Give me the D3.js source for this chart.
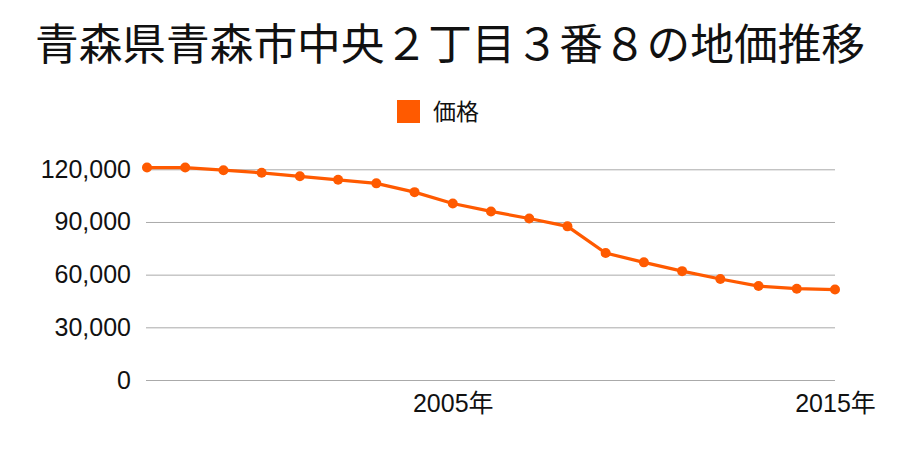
<!DOCTYPE html>
<html><head><meta charset="utf-8">
<script src="https://cdn.jsdelivr.net/npm/d3@7"></script>
<style>body{margin:0;background:#fff;} text{font-family:"Liberation Sans","Noto Sans CJK JP",sans-serif;}</style>
</head><body><svg id="c" width="900" height="450"></svg>
<script>
const years = [1997,1998,1999,2000,2001,2002,2003,2004,2005,2006,2007,2008,2009,2010,2011,2012,2013,2014,2015];
const prices = [121000,121000,119500,118000,116000,114000,112000,107000,100500,96000,92000,87500,72300,67000,62000,57500,53500,52000,51500];
const yTicks = [0,30000,60000,90000,120000];
const xTickYears = [2005,2015];
const title = "青森県青森市中央２丁目３番８の地価推移";
const legendLabel = "価格";

const svg = d3.select("#c");
const color = "#ff5a00";
const x = d3.scaleLinear().domain([1997,2015]).range([147,835]);
const y = d3.scaleLinear().domain([0,120000]).range([380,169.3]);

svg.append("text").attr("x",450).attr("y",60).attr("text-anchor","middle")
  .style("font-family","'Noto Sans CJK JP',sans-serif")
  .attr("font-size",43.7).attr("fill","#111").text(title);

svg.append("rect").attr("x",397).attr("y",100).attr("width",23).attr("height",23).attr("fill",color);
svg.append("text").attr("x",433).attr("y",120).attr("font-size",23)
  .style("font-family","'Noto Sans CJK JP',sans-serif").attr("fill","#111").text(legendLabel);

const gy = svg.append("g").attr("transform","translate(146,0)")
  .call(d3.axisLeft(y).tickValues(yTicks).tickFormat(d3.format(",")).tickSize(-689).tickPadding(15));
gy.select(".domain").remove();
gy.selectAll("line").attr("stroke","#aaa").attr("stroke-width",1);
gy.selectAll("text").attr("font-size",25).attr("fill","#111");

const gx = svg.append("g").attr("transform","translate(0,380)")
  .call(d3.axisBottom(x).tickValues(xTickYears).tickFormat(d=>d+"年").tickSize(0).tickPadding(14));
gx.select(".domain").remove();
gx.selectAll("text").attr("font-size",25).attr("fill","#111");

const data = years.map((d,i)=>({year:d,price:prices[i]}));
svg.append("path").datum(data).attr("fill","none").attr("stroke",color).attr("stroke-width",3.2)
  .attr("d",d3.line().x(d=>x(d.year)).y(d=>y(d.price)));
svg.selectAll("circle.p").data(data).enter().append("circle").attr("class","p")
  .attr("cx",d=>x(d.year)).attr("cy",d=>y(d.price)).attr("r",5).attr("fill",color);
</script></body></html>
